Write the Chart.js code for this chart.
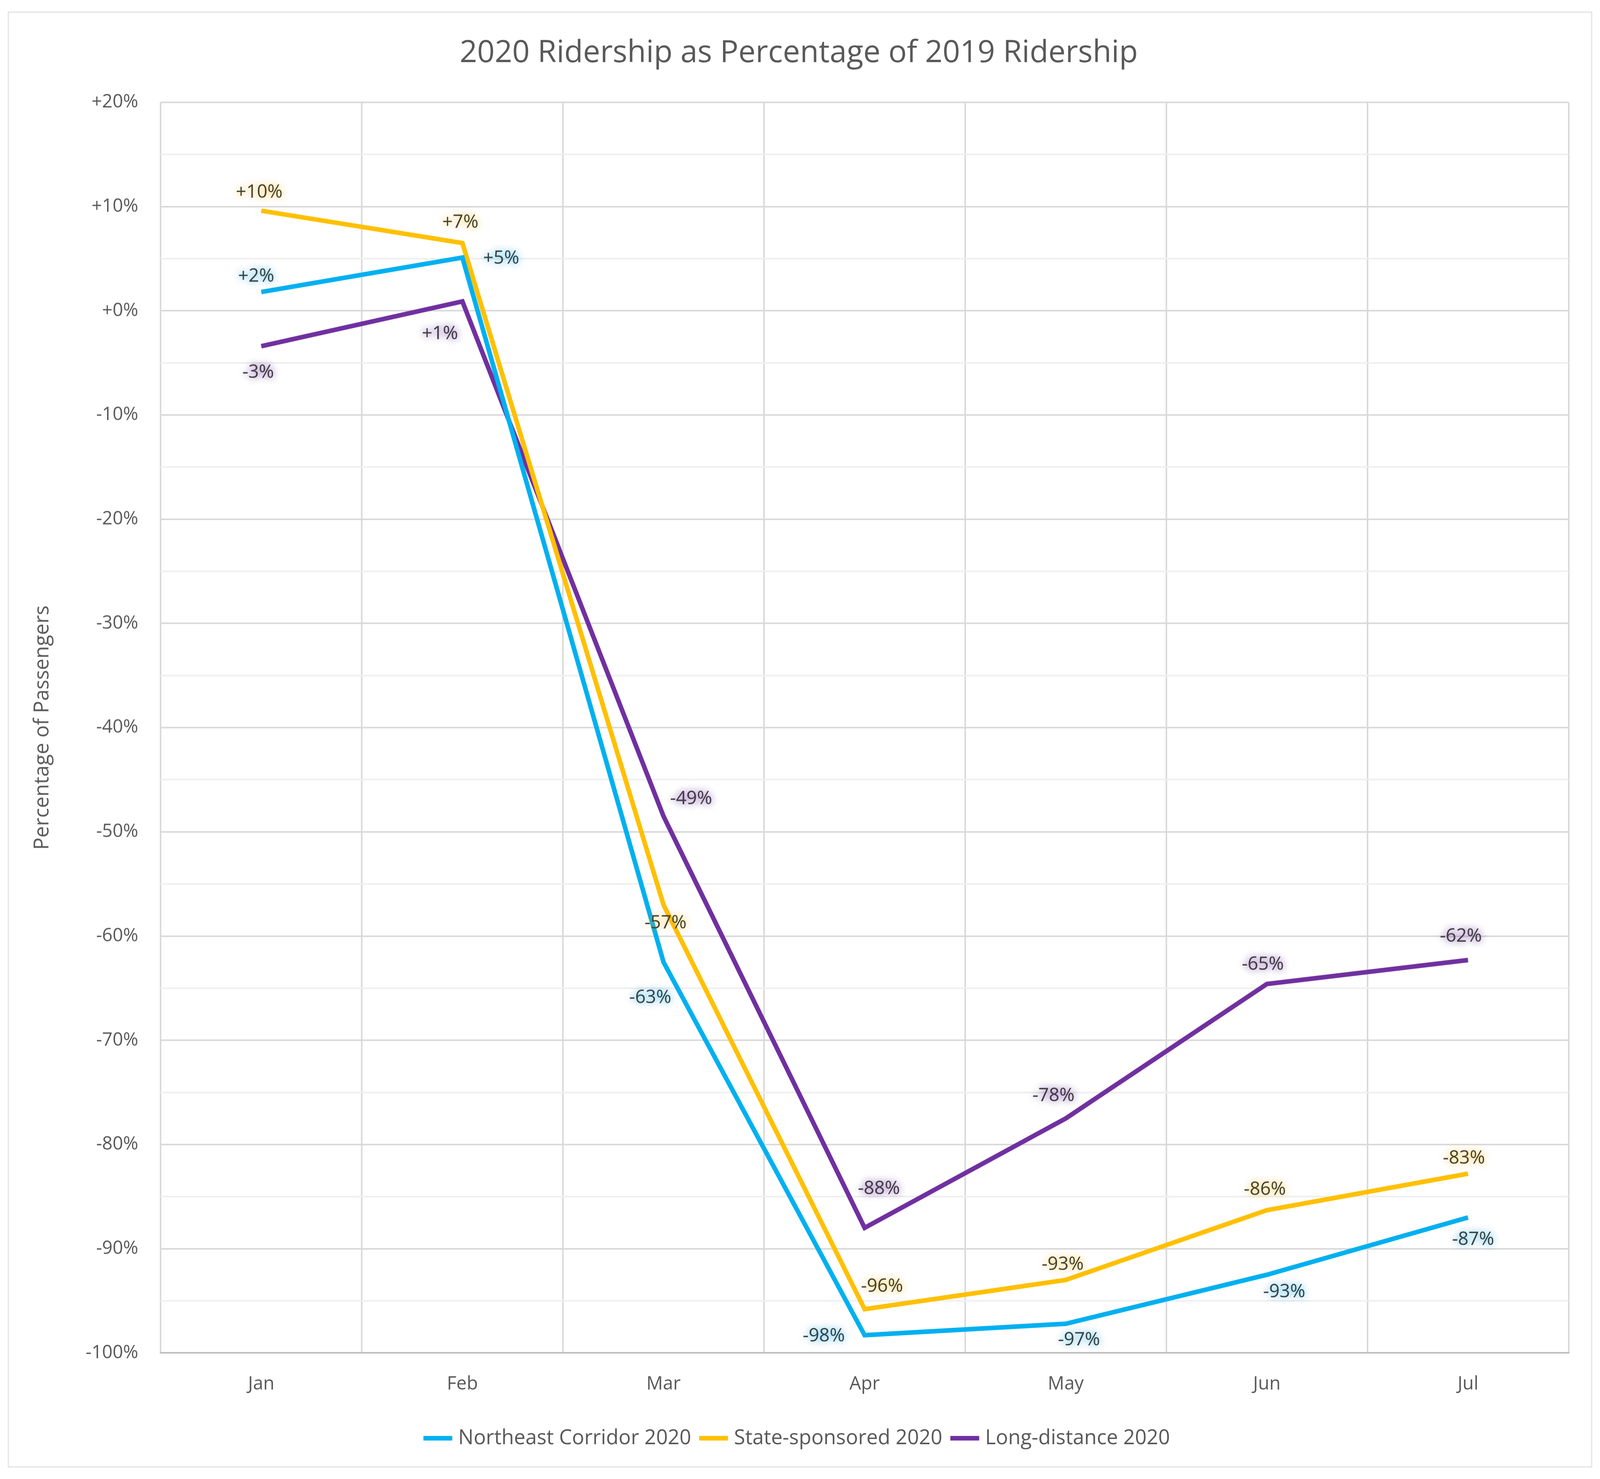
<!DOCTYPE html>
<html>
<head>
<meta charset="utf-8">
<script src="https://cdn.jsdelivr.net/npm/chart.js@4.4.1/dist/chart.umd.min.js"></script>
<style>
  html, body { margin: 0; padding: 0; background: #fff; width: 100%; height: 100%; overflow: hidden; }
  #wrap { position: absolute; left: 0.5%; top: 0.8%; width: 99%; height: 98.4%;
          border: 2px solid #d9d9d9; box-sizing: border-box; }
</style>
</head>
<body>
<div id="wrap"><canvas id="c"></canvas></div>
<script>
const S = window.innerWidth / 1568;
const months = ["Jan", "Feb", "Mar", "Apr", "May", "Jun", "Jul"];
const northeast = [1.8, 5.1, -62.5, -98.3, -97.2, -92.5, -87.0];
const stateSponsored = [9.6, 6.5, -57.0, -95.8, -93.0, -86.3, -82.8];
const longDistance = [-3.4, 0.9, -48.5, -88.0, -77.5, -64.6, -62.3];
const neLabels = ["+2%", "+5%", "-63%", "-98%", "-97%", "-93%", "-87%"];
const ssLabels = ["+10%", "+7%", "-57%", "-96%", "-93%", "-86%", "-83%"];
const ldLabels = ["-3%", "+1%", "-49%", "-88%", "-78%", "-65%", "-62%"];

// label offsets (reference px) from each point
const neOffsets = [[-5, -15], [38, 1], [-13, 35], [-40, 1], [13, 16], [17, 17], [5, 22]];
const ssOffsets = [[-2, -18], [-2, -20], [2, 18], [17, -22], [-3, -15], [-2, -20], [-4, -15]];
const ldOffsets = [[-3, 26], [-22, 32], [27, -17], [14, -38], [-12, -22], [-4, -19], [-7, -23]];

const labelPlugin = {
  id: "pointLabels",
  afterDatasetsDraw(chart) {
    const ctx = chart.ctx;
    const sets = [[neLabels, neOffsets, "#00B0F0"], [ssLabels, ssOffsets, "#FFC000"], [ldLabels, ldOffsets, "#7030A0"]];
    ctx.save();
    ctx.font = (18 * S) + "px 'Open Sans', 'Liberation Sans', sans-serif";
    ctx.textAlign = "center";
    ctx.textBaseline = "middle";
    sets.forEach(([labels, offs, col], di) => {
      chart.getDatasetMeta(di).data.forEach((pt, i) => {
        const x = pt.x + offs[i][0] * S, y = pt.y + offs[i][1] * S;
        ctx.shadowColor = col;
        ctx.globalAlpha = 0.35;
        ctx.shadowBlur = 8 * S;
        ctx.fillStyle = col;
        for (let k = 0; k < 3; k++) ctx.fillText(labels[i], x, y);
        ctx.globalAlpha = 1;
        ctx.shadowBlur = 0;
        ctx.fillStyle = "#404040";
        ctx.fillText(labels[i], x, y);
      });
    });
    ctx.restore();
  }
};

const fmt = v => (v >= 0 ? "+" : "") + v + "%";
const font = size => ({ family: "'Open Sans', 'Liberation Sans', sans-serif", size: size * S });

new Chart(document.getElementById("c"), {
  type: "line",
  data: {
    labels: months,
    datasets: [
      { label: "Northeast Corridor 2020", data: northeast, borderColor: "#00B0F0", backgroundColor: "#00B0F0" },
      { label: "State-sponsored 2020", data: stateSponsored, borderColor: "#FFC000", backgroundColor: "#FFC000" },
      { label: "Long-distance 2020", data: longDistance, borderColor: "#7030A0", backgroundColor: "#7030A0" },
    ].map(d => Object.assign(d, { borderWidth: 4.5 * S, pointRadius: 0, tension: 0, fill: false })),
  },
  options: {
    responsive: true,
    maintainAspectRatio: false,
    animation: false,
    layout: { padding: { left: 20 * S, right: 22 * S, top: 0, bottom: 14 * S } },
    plugins: {
      title: { display: true, text: "2020 Ridership as Percentage of 2019 Ridership", color: "#595959",
               font: Object.assign(font(30), { weight: "normal" }), padding: { top: 22 * S, bottom: 30 * S } },
      legend: { position: "bottom",
                labels: { usePointStyle: true, pointStyle: "line", boxWidth: 55 * S, padding: 12 * S,
                          color: "#595959", font: font(20) } },
      tooltip: { enabled: false },
    },
    scales: {
      x: {
        offset: true,
        grid: { offset: true, color: "#d9d9d9", lineWidth: 1.5 * S, drawTicks: false },
        border: { color: "#bfbfbf", width: 1.5 * S },
        ticks: { color: "#595959", font: font(18), padding: 20 * S },
      },
      y: {
        min: -100, max: 20,
        title: { display: true, text: "Percentage of Passengers", color: "#595959", font: font(20), padding: { bottom: 8 * S } },
        grid: { color: c => (c.tick && c.tick.value % 10 === 0 ? "#d9d9d9" : "#efefef"), lineWidth: 1.5 * S, drawTicks: false },
        border: { display: false },
        ticks: { stepSize: 5, autoSkip: false, color: "#595959", font: font(18), padding: 22 * S,
                 callback: v => (v % 10 === 0 ? fmt(v) : "") },
      },
    },
  },
  plugins: [labelPlugin],
});
</script>
</body>
</html>
